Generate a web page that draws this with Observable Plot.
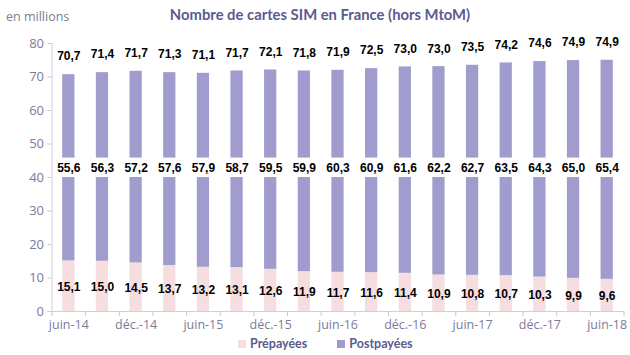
<!DOCTYPE html>
<html><head><meta charset="utf-8">
<script src="https://cdn.jsdelivr.net/npm/d3@7"></script>
<script src="https://cdn.jsdelivr.net/npm/@observablehq/plot@0.6"></script>
<style>
body{margin:0;background:#fff;}
#wrap{position:relative;width:630px;height:355px;overflow:hidden;font-family:Lato,"Open Sans",sans-serif;}
#title{position:absolute;left:0;width:640px;top:5px;text-align:center;font-weight:bold;font-size:14.8px;color:#5b5b8e;}
#unit{position:absolute;left:6px;top:8px;font-size:12.5px;color:#7b7b96;font-family:"Open Sans",sans-serif;}
#legend{position:absolute;top:336px;left:238px;font-size:12.5px;font-weight:bold;color:#5b5b8e;display:flex;gap:30px;}
#legend span.sw{display:inline-block;width:8px;height:8px;margin-right:4px;vertical-align:0px;}
#chart{position:absolute;left:0;top:0;}
</style></head>
<body><div id="wrap"><div id="chart"></div><div id="unit">en millions</div><div id="title">Nombre de cartes SIM en France (hors MtoM)</div><div id="legend"></div></div>
<script>
const quarters = ["juin-14","sept.-14","déc.-14","mars-15","juin-15","sept.-15","déc.-15","mars-16","juin-16","sept.-16","déc.-16","mars-17","juin-17","sept.-17","déc.-17","mars-18","juin-18"];
const prepaid = [15.1,15.0,14.5,13.7,13.2,13.1,12.6,11.9,11.7,11.6,11.4,10.9,10.8,10.7,10.3,9.9,9.6];
const postpaid = [55.6,56.3,57.2,57.6,57.9,58.7,59.5,59.9,60.3,60.9,61.6,62.2,62.7,63.5,64.3,65.0,65.4];
const totals = [70.7,71.4,71.7,71.3,71.1,71.7,72.1,71.8,71.9,72.5,73.0,73.0,73.5,74.2,74.6,74.9,74.9];
const series = ["Prépayées","Postpayées"];
const colors = ["#f5dde0","#a09ccd"];
const yTicks = [0,10,20,30,40,50,60,70,80];
const postLabelY = 42.8;   // level of the postpaid label band
const postLabelBand = [40, 45.8];

const fmt = v => v.toFixed(1).replace(".", ",");
const idx = quarters.map((q,i)=>i);
const long = [];
idx.forEach(i => {
  long.push({i, series: series[0], value: prepaid[i]});
  long.push({i, series: series[1], value: postpaid[i]});
});

const plot = Plot.plot({
  width: 630, height: 355,
  marginLeft: 51.5, marginRight: 6.5, marginTop: 43, marginBottom: 44,
  style: {fontFamily: "Open Sans, sans-serif", background: "transparent"},
  x: {type: "linear", domain: [-0.5, quarters.length - 0.5]},
  y: {domain: [0, 80]},
  color: {domain: series, range: colors},
  marks: [
    Plot.rectY(long, {x1: d => d.i - 0.5, x2: d => d.i + 0.5, y: "value", fill: "series", insetLeft: 10.7, insetRight: 10.7}),
    Plot.rectY(idx, {x1: i => i - 0.5, x2: i => i + 0.5, y1: postLabelBand[0], y2: postLabelBand[1], fill: "white"}),
    Plot.text(idx, {x: i => i, y: totals, text: i => fmt(totals[i]), dy: -18, fontWeight: "bold", fontSize: 12, fill: "#000", fontFamily: "Arial, Liberation Sans, sans-serif"}),
    Plot.text(idx, {x: i => i, y: postLabelY, text: i => fmt(postpaid[i]), fontWeight: "bold", fontSize: 12, fill: "#000", fontFamily: "Arial, Liberation Sans, sans-serif"}),
    Plot.text(idx, {x: i => i, y: i => prepaid[i] / 2 - 0.3, text: i => fmt(prepaid[i]), fontWeight: "bold", fontSize: 12, fill: "#000", fontFamily: "Arial, Liberation Sans, sans-serif"}),
    Plot.ruleX([-0.5], {stroke: "#d0d0d8"}),
    Plot.ruleY([0], {stroke: "#d0d0d8"}),
    Plot.axisY({ticks: yTicks, tickSize: 4, tickPadding: 4, stroke: "#c8c8d0", color: "#7b7b9a", fontSize: 13, label: null}),
    Plot.axisX({ticks: d3.range(-0.5, quarters.length, 1), tickSize: 5, tickFormat: () => "", stroke: "#c8c8d0", label: null}),
    Plot.axisX({ticks: idx.filter(i => i % 2 === 0), tickSize: 0, tickPadding: 9, tickFormat: i => quarters[i], color: "#7b7b9a", fontSize: 12.5, label: null})
  ]
});
document.getElementById("chart").append(plot);
const lg = document.getElementById("legend");
series.forEach((s,k) => {
  const d = document.createElement("div");
  d.innerHTML = `<span class="sw" style="background:${colors[k]}"></span>${s}`;
  lg.append(d);
});
</script></body></html>
